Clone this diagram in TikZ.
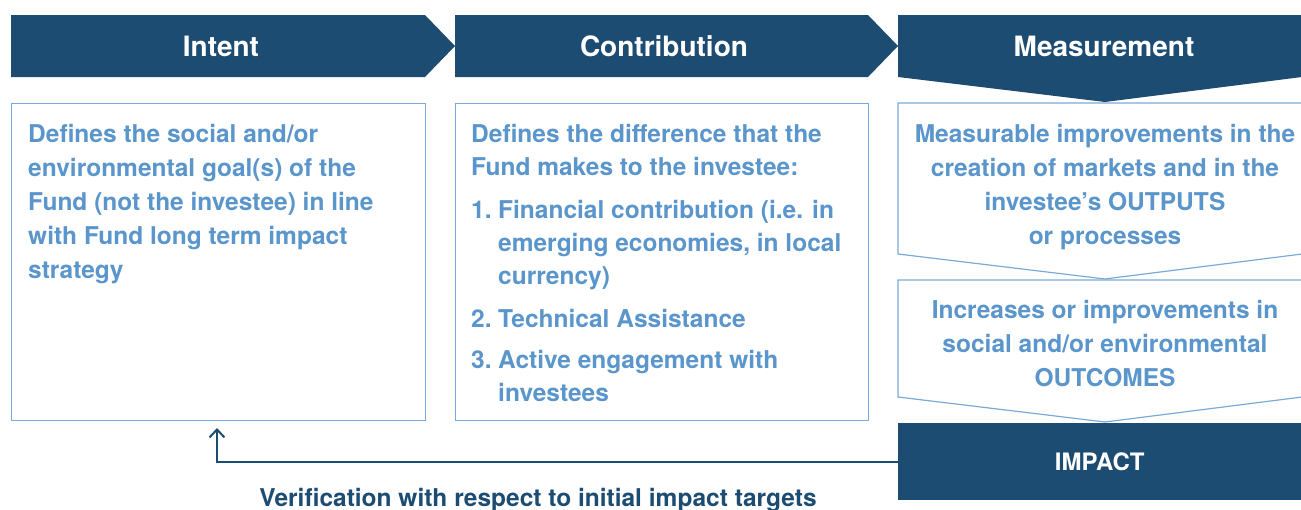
\documentclass[tikz,border=0pt]{standalone}
\usepackage{fontspec}
\setmainfont{TeX Gyre Heros}
\usetikzlibrary{arrows.meta}
\definecolor{darkblue}{HTML}{1D4C73}
\definecolor{textblue}{HTML}{5A96CB}
\definecolor{lineblue}{HTML}{7BAAD8}
\begin{document}
\begin{tikzpicture}[x=1pt,y=-1pt,
  banner/.style={fill=darkblue,draw=none},
  panel/.style={draw=lineblue,line width=1.2pt,fill=white},
  head/.style={text=white,font=\fontsize{28}{34}\selectfont\bfseries},
  body/.style={text=textblue,font=\fontsize{24.5}{34}\selectfont\bfseries,inner sep=0pt},
  feedback/.style={draw=darkblue,line width=2pt,-{Straight Barb[length=8pt,width=15pt,line width=2pt]}}]
\clip (0,0) rectangle (1301,509);

% header chevrons
\path[banner] (11,15) -- (425,15) -- (455,46) -- (425,77) -- (11,77) -- cycle;
\path[banner] (455,15) -- (868,15) -- (898,46) -- (868,77) -- (455,77) -- cycle;
\path[banner] (898,15) -- (1302,15) -- (1302,77) -- (1105,102) -- (898,77) -- cycle;
\node[head] (intent) at (221,46) {Intent};
\node[head] (contrib) at (664,46) {Contribution};
\node[head] (measure) at (1104,46) {Measurement};

% text boxes
\node[panel,anchor=north west,minimum width=414pt,minimum height=317pt] (intentbox) at (11,103) {};
\node[panel,anchor=north west,minimum width=413pt,minimum height=317pt] (contribbox) at (455,103) {};
\path[panel] (898,103) -- (1302,103) -- (1302,254) -- (1105,279) -- (898,254) -- cycle;
\path[panel] (898,280) -- (1302,280) -- (1302,397) -- (1105,422) -- (898,397) -- cycle;

\node[body,anchor=north west,align=left] (intenttext) at (28,124)
  {Defines the social and/or\\ environmental goal(s) of the\\ Fund (not the investee) in line\\
   with Fund long term impact\\ strategy};
\node[body,font=\fontsize{24.5}{33}\selectfont\bfseries,anchor=north west,align=left] (contribtext) at (471,124)
  {Defines the difference that the\\ Fund makes to the investee:\\[10pt]
   \makebox[27pt][l]{1.}Financial contribution (i.e. in\\
   \hspace*{27pt}emerging economies, in local\\ \hspace*{27pt}currency)\\[10pt]
   \makebox[27pt][l]{2.}Technical Assistance\\[8pt]
   \makebox[27pt][l]{3.}Active engagement with\\ \hspace*{27pt}investees};
\node[body,anchor=north,align=center] (outputs) at (1105,124)
  {Measurable improvements in the\\ creation of markets and in the\\ investee’s OUTPUTS\\ or processes};
\node[body,anchor=north,align=center] (outcomes) at (1105,300)
  {Increases or improvements in\\ social and/or environmental\\ OUTCOMES};

% impact and feedback loop
\node[banner,anchor=north west,minimum width=403pt,minimum height=77pt,inner sep=0pt] (impact) at (898,423) {};
\node[head,font=\fontsize{24}{30}\selectfont\bfseries] at (impact.center) {IMPACT};
\coordinate (tip) at (217,428);
\path[feedback] (impact.west) -| (tip);
\node[text=darkblue,font=\fontsize{24.5}{30}\selectfont\bfseries,anchor=base] (verif) at (538,506)
  {Verification with respect to initial impact targets};
\end{tikzpicture}
\end{document}
